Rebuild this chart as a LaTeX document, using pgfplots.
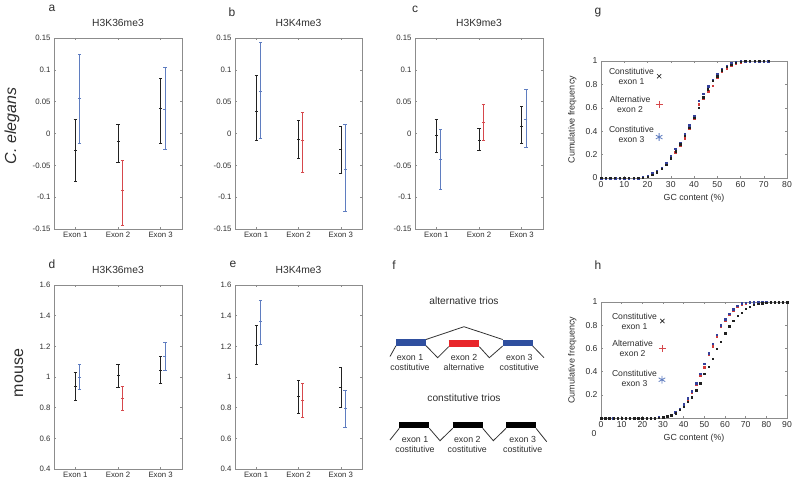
\documentclass[border=0pt]{standalone}
\usepackage{fontspec}
\setmainfont{Liberation Sans}
\usepackage{pgfplots}
\pgfplotsset{compat=1.18}
\usepackage{pgfplotstable}

\definecolor{txt}{HTML}{2E2E2E}
\definecolor{eblack}{HTML}{222222}
\definecolor{eblue}{HTML}{5F7DC0}
\definecolor{ered}{HTML}{D6484C}
\definecolor{frame}{HTML}{8C8C8C}
\definecolor{boxblue}{HTML}{2F4F9F}
\definecolor{boxred}{HTML}{E8262A}
\definecolor{dk}{HTML}{202020}
\definecolor{db}{HTML}{34409A}
\definecolor{dr}{HTML}{D03A3A}
\definecolor{dline}{HTML}{333333}

\pgfplotstableread{
x k r b
0 0 0 0
2 0 0 0
4 0 0 0
6 0 0 0
8 0 0 0
10 0 0 0
12 0 0 0
14 0 0 0
16 0 0 0
18 0.005 0.01 0.01
20 0.012 0.02 0.02
22 0.03 0.035 0.04
24 0.05 0.055 0.06
26 0.08 0.085 0.09
28 0.115 0.12 0.13
30 0.17 0.17 0.19
32 0.23 0.22 0.25
34 0.29 0.28 0.30
36 0.36 0.34 0.38
38 0.43 0.42 0.45
40 0.515 0.51 0.53
42 0.60 0.63 0.66
44 0.69 0.68 0.72
46 0.76 0.74 0.785
48 0.83 0.79 0.84
50 0.87 0.86 0.89
52 0.92 0.91 0.935
54 0.95 0.94 0.96
56 0.97 0.965 0.98
58 0.985 0.98 0.99
60 0.995 0.99 1
62 1 1 1
64 1 1 1
66 1 1 1
68 1 1 1
70 1 1 1
72 1 1 1
}\gdata

\pgfplotstableread{
x k r b
0 0 0 0
2 0 0 0
4 0 0 0
6 0 0 0
8 0 0 0
10 0 0 0
12 0 0 0
14 0 0 0
16 0 0 0
18 0 0 0
20 0 0 0
22 0 0 0
24 0 0 0
26 0 0.002 0.002
28 0.004 0.005 0.005
30 0.008 0.01 0.01
32 0.015 0.02 0.02
34 0.025 0.03 0.03
36 0.04 0.05 0.05
38 0.07 0.08 0.08
40 0.10 0.11 0.12
42 0.14 0.16 0.17
44 0.18 0.22 0.23
46 0.24 0.29 0.30
48 0.30 0.37 0.38
50 0.38 0.44 0.47
52 0.44 0.55 0.56
54 0.51 0.62 0.64
56 0.60 0.70 0.72
58 0.66 0.79 0.80
60 0.73 0.84 0.85
62 0.79 0.89 0.90
64 0.84 0.93 0.94
66 0.88 0.96 0.97
68 0.91 0.98 0.99
70 0.94 0.99 0.995
72 0.96 0.995 1
74 0.975 1 1
76 0.985 1 1
78 0.99 1 1
80 0.995 1 1
82 1 1 1
84 1 1 1
86 1 1 1
88 1 1 1
90 1 1 1
}\hdata

\tikzset{lgtext/.style={align=center, font=\fontsize{8.6}{10}\selectfont, text=txt}}

\pgfplotsset{
  errpanel/.style={scale only axis, anchor=south west, width=128pt,
    xmin=0.5, xmax=3.5, xtick={1,2,3}, xticklabels={Exon 1,Exon 2,Exon 3},
    tick align=inside, major tick length=2.2pt,
    axis line style={frame, line width=0.6pt}, tick style={frame, line width=0.5pt},
    ticklabel style={font=\fontsize{7.8}{9}\selectfont, text=txt},
    title style={font=\fontsize{10.3}{12}\selectfont, text=txt, yshift=2pt},
    clip=false},
  ctop/.style={height=191pt, ymin=-0.15, ymax=0.15,
    ytick={-0.15,-0.1,-0.05,0,0.05,0.1,0.15},
    yticklabels={-0.15,-0.1,-0.05,0,0.05,0.1,0.15}},
  cbot/.style={height=184pt, ymin=0.4, ymax=1.6,
    ytick={0.4,0.6,0.8,1,1.2,1.4,1.6},
    yticklabels={0.4,0.6,0.8,1,1.2,1.4,1.6}},
  errbar/.style={only marks, mark=-, mark size=1.5pt, line width=0.65pt,
    /pgfplots/error bars/y dir=both, /pgfplots/error bars/y explicit,
    /pgfplots/error bars/error mark=|,
    /pgfplots/error bars/error bar style={line width=0.65pt},
    /pgfplots/error bars/error mark options={mark size=1.6pt, line width=0.65pt}},
  cumpanel/.style={scale only axis, anchor=south west, width=186pt,
    tick align=inside, major tick length=2.2pt,
    axis line style={frame, line width=0.6pt}, tick style={frame, line width=0.5pt},
    ticklabel style={font=\fontsize{8.6}{10}\selectfont, text=txt},
    xlabel style={font=\fontsize{8.8}{10}\selectfont, text=txt},
    ylabel style={font=\fontsize{9}{10}\selectfont, text=txt, at={(axis description cs:-0.155,0.5)}, anchor=center},
    ymin=0, ymax=1, clip=false},
  dots/.style={only marks, mark=square*, mark size=0.75pt}
}

\begin{document}
\begin{tikzpicture}[x=1pt,y=1pt]
\path[use as bounding box] (0,0) rectangle (800,485);

% ---------- a ----------
\begin{axis}[errpanel, ctop, at={(54pt,256pt)}, title={H3K36me3}]
\addplot[eblack, errbar] coordinates {(1,-0.026) += (0,0.048) -= (0,0.049) (2,-0.012) += (0,0.026) -= (0,0.033) (3,0.040) += (0,0.047) -= (0,0.056)};
\addplot[eblue, errbar] coordinates {(1.1,0.055) += (0,0.069) -= (0,0.071) (3.1,0.038) += (0,0.066) -= (0,0.063)};
\addplot[ered, errbar] coordinates {(2.1,-0.09) += (0,0.048) -= (0,0.054)};
\end{axis}

% ---------- b ----------
\begin{axis}[errpanel, ctop, at={(235pt,256pt)}, width=127pt, title={H3K4me3}]
\addplot[eblack, errbar] coordinates {(1,0.035) += (0,0.056) -= (0,0.046) (2,-0.009) += (0,0.029) -= (0,0.030) (3,-0.025) += (0,0.037) -= (0,0.038)};
\addplot[eblue, errbar] coordinates {(1.1,0.066) += (0,0.077) -= (0,0.074) (3.1,-0.056) += (0,0.070) -= (0,0.066)};
\addplot[ered, errbar] coordinates {(2.1,-0.010) += (0,0.043) -= (0,0.051)};
\end{axis}

% ---------- c ----------
\begin{axis}[errpanel, ctop, at={(415pt,256pt)}, title={H3K9me3}]
\addplot[eblack, errbar] coordinates {(1,-0.003) += (0,0.026) -= (0,0.026) (2,-0.010) += (0,0.018) -= (0,0.017) (3,0.012) += (0,0.030) -= (0,0.028)};
\addplot[eblue, errbar] coordinates {(1.1,-0.040) += (0,0.046) -= (0,0.048) (3.1,0.022) += (0,0.047) -= (0,0.044)};
\addplot[ered, errbar] coordinates {(2.1,0.018) += (0,0.028) -= (0,0.029)};
\end{axis}

% ---------- d ----------
\begin{axis}[errpanel, cbot, at={(54pt,16pt)}, title={H3K36me3}]
\addplot[eblack, errbar] coordinates {(1,0.94) += (0,0.09) -= (0,0.09) (2,1.01) += (0,0.075) -= (0,0.075) (3,1.045) += (0,0.09) -= (0,0.085)};
\addplot[eblue, errbar] coordinates {(1.1,1.00) += (0,0.08) -= (0,0.08) (3.1,1.135) += (0,0.09) -= (0,0.09)};
\addplot[ered, errbar] coordinates {(2.1,0.86) += (0,0.08) -= (0,0.075)};
\end{axis}

% ---------- e ----------
\begin{axis}[errpanel, cbot, at={(235pt,16pt)}, width=127pt, title={H3K4me3}]
\addplot[eblack, errbar] coordinates {(1,1.205) += (0,0.13) -= (0,0.125) (2,0.875) += (0,0.105) -= (0,0.115) (3,0.93) += (0,0.135) -= (0,0.125)};
\addplot[eblue, errbar] coordinates {(1.1,1.36) += (0,0.14) -= (0,0.145) (3.1,0.795) += (0,0.115) -= (0,0.12)};
\addplot[ered, errbar] coordinates {(2.1,0.845) += (0,0.115) -= (0,0.105)};
\end{axis}

% ---------- f (schematic) ----------
\begin{axis}[at={(390pt,0pt)}, anchor=south west, scale only axis, width=200pt, height=235pt,
  xmin=390, xmax=590, ymin=250, ymax=485, y dir=reverse, hide axis, clip=false]
\addplot[dline, line width=0.8pt, no markers] coordinates {(390,356.5) (396,345.7)};
\addplot[dline, line width=0.8pt, no markers] coordinates {(426,345.7) (437.7,357.7) (448.7,346.7)};
\addplot[dline, line width=0.8pt, no markers] coordinates {(479.3,346.7) (489.3,357.7) (502.7,346)};
\addplot[dline, line width=0.8pt, no markers] coordinates {(532.7,346) (544,357.7)};
\addplot[dline, line width=0.8pt, no markers] coordinates {(426,339.5) (464,326.7) (502.7,339.5)};
\addplot[boxblue, line width=6.4pt, no markers, line cap=butt] coordinates {(396,342.5) (426,342.5)};
\addplot[boxred, line width=6.4pt, no markers, line cap=butt] coordinates {(448.7,343.3) (479.3,343.3)};
\addplot[boxblue, line width=6.4pt, no markers, line cap=butt] coordinates {(502.7,342.7) (532.7,342.7)};
\addplot[dline, line width=0.8pt, no markers] coordinates {(390,440) (399.3,428.3)};
\addplot[dline, line width=0.8pt, no markers] coordinates {(429.3,428.3) (440,440.7) (452.7,428.3)};
\addplot[dline, line width=0.8pt, no markers] coordinates {(482.7,428.3) (493.3,440.7) (506,428.3)};
\addplot[dline, line width=0.8pt, no markers] coordinates {(536,428.3) (546.7,441.7)};
\addplot[black, line width=6pt, no markers, line cap=butt] coordinates {(399.3,425.3) (429.3,425.3)};
\addplot[black, line width=6pt, no markers, line cap=butt] coordinates {(452.7,425.3) (482.7,425.3)};
\addplot[black, line width=6pt, no markers, line cap=butt] coordinates {(506,425.3) (536,425.3)};
\node[font=\fontsize{10.2}{12}\selectfont, text=txt] at (axis cs:464,300.7) {alternative trios};
\node[font=\fontsize{10.2}{12}\selectfont, text=txt] at (axis cs:464,398.3) {constitutive trios};
\node[lgtext, font=\fontsize{8.8}{10}\selectfont] at (axis cs:410,362.3) {exon 1\\costitutive};
\node[lgtext, font=\fontsize{8.8}{10}\selectfont] at (axis cs:464,362.3) {exon 2\\alternative};
\node[lgtext, font=\fontsize{8.8}{10}\selectfont] at (axis cs:519.3,362.3) {exon 3\\costitutive};
\node[lgtext, font=\fontsize{8.8}{10}\selectfont] at (axis cs:415,444.7) {exon 1\\costitutive};
\node[lgtext, font=\fontsize{8.8}{10}\selectfont] at (axis cs:467.3,444.7) {exon 2\\costitutive};
\node[lgtext, font=\fontsize{8.8}{10}\selectfont] at (axis cs:522.7,444.7) {exon 3\\costitutive};
\end{axis}

% ---------- g ----------
\begin{axis}[cumpanel, at={(601pt,307pt)}, height=117pt,
  xmin=0, xmax=80, xtick={0,10,20,30,40,50,60,70,80}, xticklabels={0,10,20,30,40,50,60,70,80},
  ytick={0,0.2,0.4,0.6,0.8,1}, yticklabels={0,0.2,0.4,0.6,0.8,1},
  xlabel={GC content (\%)}, ylabel={Cumulative frequency}]
\addplot[dots, dr] table[x=x,y=r]{\gdata};
\addplot[dots, db] table[x=x,y=b]{\gdata};
\addplot[dots, dk, mark size=0.7pt] table[x=x,y=k]{\gdata};
\addplot[only marks, mark=x, mark size=3pt, eblack, line width=0.6pt] coordinates {(25,0.87)};
\addplot[only marks, mark=+, mark size=3.4pt, ered, line width=0.6pt] coordinates {(25,0.63)};
\addplot[only marks, mark=asterisk, mark size=3.8pt, eblue, line width=0.8pt] coordinates {(25,0.35)};
\node[lgtext] at (axis cs:13.1,0.866) {Constitutive\\exon 1};
\node[lgtext] at (axis cs:12.5,0.63) {Alternative\\exon 2};
\node[lgtext] at (axis cs:13.1,0.376) {Constitutive\\exon 3};
\end{axis}

% ---------- h ----------
\begin{axis}[cumpanel, at={(601pt,67pt)}, height=116pt,
  xmin=0, xmax=90, xtick={0,10,20,30,40,50,60,70,80,90}, xticklabels={0,10,20,30,40,50,60,70,80,90},
  ytick={0.2,0.4,0.6,0.8,1}, yticklabels={0.2,0.4,0.6,0.8,1},
  extra y ticks={0}, extra y tick labels={},
  xlabel={GC content (\%)}, ylabel={Cumulative frequency}]
\addplot[dots, dr] table[x=x,y=r]{\hdata};
\addplot[dots, db] table[x=x,y=b]{\hdata};
\addplot[dots, dk, mark size=0.7pt] table[x=x,y=k]{\hdata};
\addplot[only marks, mark=x, mark size=3pt, eblack, line width=0.6pt] coordinates {(29.7,0.836)};
\addplot[only marks, mark=+, mark size=3.4pt, ered, line width=0.6pt] coordinates {(29.7,0.60)};
\addplot[only marks, mark=asterisk, mark size=3.8pt, eblue, line width=0.8pt] coordinates {(29.5,0.33)};
\node[lgtext] at (axis cs:16.2,0.834) {Constitutive\\exon 1};
\node[lgtext] at (axis cs:15.3,0.60) {Alternative\\exon 2};
\node[lgtext] at (axis cs:16.2,0.342) {Constitutive\\exon 3};
\node[font=\fontsize{8.6}{10}\selectfont, text=txt] at (axis cs:-3.4,-0.13) {0};
\end{axis}

% ---------- panel letters and row labels ----------
\node[font=\fontsize{12}{14}\selectfont, text=txt] at (52,477) {a};
\node[font=\fontsize{12}{14}\selectfont, text=txt] at (232,473) {b};
\node[font=\fontsize{12}{14}\selectfont, text=txt] at (415,476) {c};
\node[font=\fontsize{12}{14}\selectfont, text=txt] at (598,472) {g};
\node[font=\fontsize{12}{14}\selectfont, text=txt] at (52,221) {d};
\node[font=\fontsize{12}{14}\selectfont, text=txt] at (233,221) {e};
\node[font=\fontsize{12}{14}\selectfont, text=txt] at (394,220) {f};
\node[font=\fontsize{12}{14}\selectfont, text=txt] at (598,220) {h};
\node[font=\fontsize{16}{18}\selectfont, text=txt, rotate=90] at (12,359) {\itshape C. elegans};
\node[font=\fontsize{16}{18}\selectfont, text=txt, rotate=90] at (19,112) {mouse};
\end{tikzpicture}
\end{document}
